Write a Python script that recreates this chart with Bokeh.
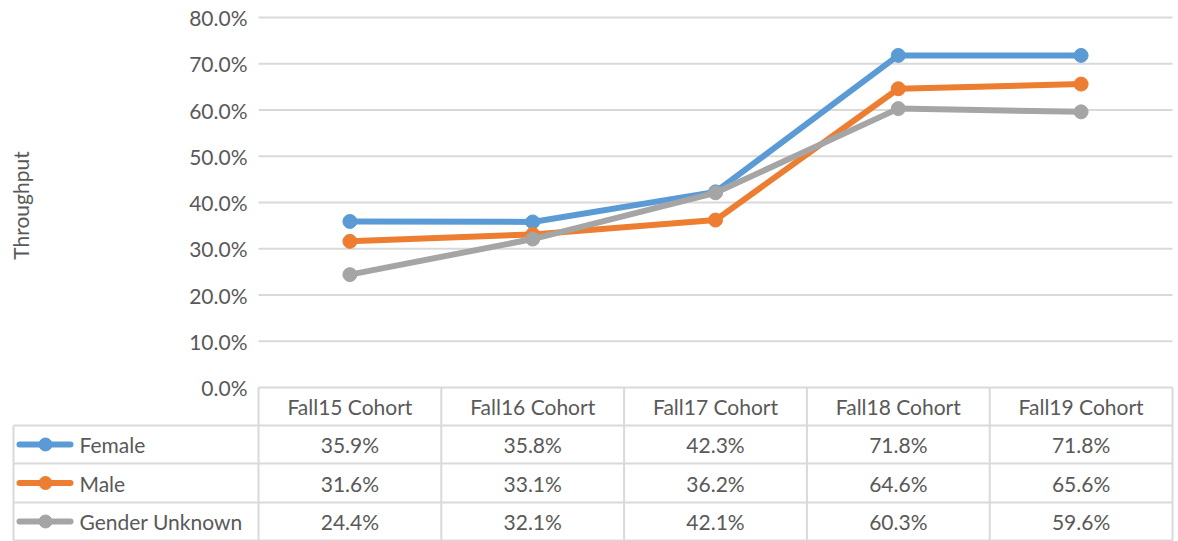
from bokeh.plotting import figure
from bokeh.models import Range1d
from bokeh.core.properties import value
from bokeh.embed import file_html
from bokeh.resources import INLINE

categories = ["Fall15 Cohort", "Fall16 Cohort", "Fall17 Cohort", "Fall18 Cohort", "Fall19 Cohort"]
series_names = ["Female", "Male", "Gender Unknown"]
female = [35.9, 35.8, 42.3, 71.8, 71.8]
male = [31.6, 33.1, 36.2, 64.6, 65.6]
unknown = [24.4, 32.1, 42.1, 60.3, 59.6]
series_values = [female, male, unknown]
colors = ["#5B9BD5", "#ED7D31", "#A5A5A5"]
y_ticks = [0, 10, 20, 30, 40, 50, 60, 70, 80]
y_tick_labels = ["%.1f%%" % t for t in y_ticks]
axis_title = "Throughput"

W, H = 1178, 541
FONT = value("Lato")
FS = "21px"
TXT = "#595959"
GRID = "#D9D9D9"

# layout (pixels in figure)
plot_left, plot_right = 258, 1172
y0_px, y80_px = 387, 17
cat_w = (plot_right - plot_left) / len(categories)
ppu = (y0_px - y80_px) / 80.0

x_start = -0.5 - plot_left / cat_w
x_end = len(categories) - 0.5 + (W - plot_right) / cat_w
y_end = 80 + y80_px / ppu
y_start = -(H - y0_px) / ppu

p = figure(width=W, height=H, output_backend="svg", toolbar_location=None,
           x_range=Range1d(x_start, x_end), y_range=Range1d(y_start, y_end),
           min_border=0, border_fill_color="white", background_fill_color="white",
           outline_line_color=None)
p.extra_x_ranges = {"px": Range1d(0, W)}
p.extra_y_ranges = {"py": Range1d(H, 0)}
p.xaxis.visible = False
p.yaxis.visible = False
p.xgrid.visible = False
p.ygrid.visible = False

n = len(categories)
xs = list(range(n))

# gridlines
p.segment(x0=[-0.5] * len(y_ticks), x1=[n - 0.5] * len(y_ticks), y0=y_ticks, y1=y_ticks,
          line_color=GRID, line_width=2)
# tick labels
p.text(x=[plot_left - 11] * len(y_ticks), y=y_ticks, text=y_tick_labels, x_range_name="px",
       text_align="right", text_baseline="middle", text_font=FONT, text_font_size=FS,
       text_color=TXT)
# axis title
p.text(x=[20], y=[205], text=[axis_title], x_range_name="px", y_range_name="py",
       angle=1.5708, text_align="center", text_baseline="middle", text_font=FONT,
       text_font_size=FS, text_color=TXT)

# series
for vals, c in zip(series_values, colors):
    p.line(xs, vals, line_color=c, line_width=6, line_join="round", line_cap="round")
    p.scatter(xs, vals, size=14, fill_color=c, line_color=c)

# data table
row_lines = [425, 463, 502, 540]
header_y = (y0_px + row_lines[0]) / 2
row_y = [(row_lines[i] + row_lines[i + 1]) / 2 for i in range(3)]
table_left = 13
# vertical lines
p.segment(x0=[i - 0.5 for i in range(n + 1)], x1=[i - 0.5 for i in range(n + 1)],
          y0=[y0_px] * (n + 1), y1=[row_lines[-1]] * (n + 1), y_range_name="py",
          line_color=GRID, line_width=2)
p.segment(x0=[table_left], x1=[table_left], y0=[row_lines[0]], y1=[row_lines[-1]],
          x_range_name="px", y_range_name="py", line_color=GRID, line_width=2)
p.segment(x0=[table_left] * len(row_lines), x1=[plot_right] * len(row_lines),
          y0=row_lines, y1=row_lines, x_range_name="px", y_range_name="py",
          line_color=GRID, line_width=2)
# header
p.text(x=xs, y=[header_y] * n, text=categories, y_range_name="py", text_align="center",
       text_baseline="middle", text_font=FONT, text_font_size=FS, text_color=TXT)
# rows
for r, (name, vals, c) in enumerate(zip(series_names, series_values, colors)):
    yy = row_y[r]
    p.text(x=xs, y=[yy] * n, text=["%.1f%%" % v for v in vals], y_range_name="py",
           text_align="center", text_baseline="middle", text_font=FONT, text_font_size=FS,
           text_color=TXT)
    p.segment(x0=[19], x1=[70], y0=[yy], y1=[yy], x_range_name="px", y_range_name="py",
              line_color=c, line_width=6, line_cap="round")
    p.scatter(x=[45], y=[yy], x_range_name="px", y_range_name="py", size=13,
              fill_color=c, line_color=c)
    p.text(x=[79], y=[yy], text=[name], x_range_name="px", y_range_name="py",
           text_align="left", text_baseline="middle", text_font=FONT, text_font_size=FS,
           text_color=TXT)

open("out.html", "w").write(file_html(p, INLINE))
